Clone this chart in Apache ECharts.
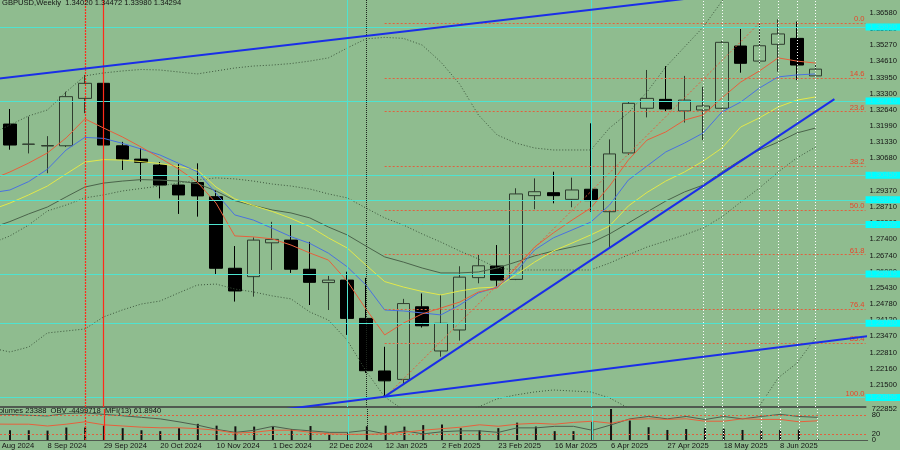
<!DOCTYPE html>
<html><head><meta charset="utf-8">
<script src="https://cdn.jsdelivr.net/npm/echarts@6/dist/echarts.min.js"></script>
<style>html,body{margin:0;padding:0;background:#8fbc8f;overflow:hidden;width:900px;height:450px;position:relative}#chart{position:absolute;left:-20px;top:0;width:920px;height:450px}</style>
</head><body><div id="chart"></div>
<script>
// ---------------- data ----------------
const weeks = ['18 Aug 2024','25 Aug 2024','1 Sep 2024','8 Sep 2024','15 Sep 2024','22 Sep 2024','29 Sep 2024','6 Oct 2024','13 Oct 2024','20 Oct 2024','27 Oct 2024','3 Nov 2024','10 Nov 2024','17 Nov 2024','24 Nov 2024','1 Dec 2024','8 Dec 2024','15 Dec 2024','22 Dec 2024','29 Dec 2024','5 Jan 2025','12 Jan 2025','19 Jan 2025','26 Jan 2025','2 Feb 2025','9 Feb 2025','16 Feb 2025','23 Feb 2025','2 Mar 2025','9 Mar 2025','16 Mar 2025','23 Mar 2025','30 Mar 2025','6 Apr 2025','13 Apr 2025','20 Apr 2025','27 Apr 2025','4 May 2025','11 May 2025','18 May 2025','25 May 2025','1 Jun 2025','8 Jun 2025','15 Jun 2025','22 Jun 2025'];

const openP  = [null,1.3207,1.3125,1.3118,1.3119,1.3311,1.3372,1.3119,1.3065,1.3041,1.2960,1.2970,1.2913,1.2623,1.2589,1.2726,1.2737,1.2619,1.2565,1.2575,1.2420,1.2207,1.2173,1.2467,1.2288,1.2373,1.2585,1.2632,1.2578,1.2917,1.2929,1.2902,1.2943,1.2852,1.3090,1.3271,1.3307,1.3260,1.3264,1.3271,1.3523,1.3462,1.3530,1.3554,1.34020];
const highP  = [null,1.3268,1.3237,1.3158,1.3338,1.3406,1.3433,1.3135,1.3110,1.3053,1.3045,1.3048,1.2940,1.2713,1.2748,1.2811,1.2798,1.2730,1.2592,1.2609,1.2584,1.2305,1.2499,1.2521,1.2515,1.2631,1.2677,1.2717,1.2947,1.2987,1.3014,1.2990,1.3210,1.3145,1.3300,1.3426,1.3442,1.3402,1.3358,1.3543,1.3592,1.3615,1.3631,1.3622,1.34472];
const lowP   = [null,1.3103,1.3088,1.3008,1.3114,1.3251,1.3070,1.3021,1.2974,1.2906,1.2843,1.2832,1.2596,1.2488,1.2508,1.2616,1.2604,1.2474,1.2454,1.2353,1.2199,1.2099,1.2155,1.2383,1.2265,1.2330,1.2562,1.2548,1.2575,1.2862,1.2886,1.2870,1.2852,1.2709,1.3082,1.3234,1.3257,1.3213,1.3142,1.3268,1.3415,1.3453,1.3419,1.3385,1.33980];
const closeP = [null,1.3122,1.3126,1.3120,1.3318,1.3372,1.3122,1.3065,1.3052,1.2960,1.2920,1.2916,1.2623,1.2531,1.2737,1.2740,1.2619,1.2566,1.2575,1.2420,1.2208,1.2167,1.2480,1.2390,1.2400,1.2587,1.2633,1.2575,1.2924,1.2933,1.2917,1.2940,1.2897,1.3086,1.3291,1.3311,1.3268,1.3304,1.3280,1.3538,1.3453,1.3524,1.3572,1.3446,1.34294];

const maRed    = [1.2982,1.3013,1.3049,1.3090,1.3151,1.3228,1.3191,1.3155,1.3114,1.3070,1.3025,1.2972,1.2887,1.2754,1.2750,1.2742,1.2717,1.2685,1.2656,1.2571,1.2458,1.2353,1.2401,1.2438,1.2462,1.2486,1.2527,1.2543,1.2624,1.2709,1.2766,1.2818,1.2867,1.2956,1.3061,1.3142,1.3175,1.3223,1.3244,1.3313,1.3377,1.3422,1.3475,1.3462,1.3454];
const maBlue   = [1.2928,1.2940,1.2974,1.3024,1.3102,1.3153,1.3149,1.3129,1.3106,1.3082,1.3048,1.3014,1.2927,1.2839,1.2818,1.2785,1.2751,1.2724,1.2684,1.2629,1.2555,1.2454,1.2450,1.2442,1.2434,1.2474,1.2523,1.2547,1.2608,1.2697,1.2746,1.2778,1.2810,1.2879,1.2980,1.3037,1.3094,1.3130,1.3171,1.3256,1.3296,1.3353,1.3398,1.3406,1.3410];
const maYellow = [1.2859,1.2887,1.2920,1.2956,1.3005,1.3053,1.3063,1.3061,1.3055,1.3047,1.3035,1.3021,1.2952,1.2904,1.2877,1.2853,1.2825,1.2792,1.2746,1.2705,1.2636,1.2569,1.2547,1.2529,1.2515,1.2531,1.2543,1.2547,1.2596,1.2648,1.2693,1.2725,1.2758,1.2794,1.2875,1.2930,1.2976,1.3013,1.3057,1.3110,1.3195,1.3232,1.3276,1.3304,1.3317];
const maGreen  = [1.2786,1.2812,1.2843,1.2871,1.2912,1.2952,1.2968,1.2976,1.2982,1.2980,1.2976,1.2966,1.2936,1.2897,1.2877,1.2859,1.2847,1.2827,1.2790,1.2758,1.2713,1.2669,1.2648,1.2624,1.2604,1.2604,1.2608,1.2624,1.2648,1.2673,1.2693,1.2709,1.2725,1.2762,1.2806,1.2851,1.2895,1.2932,1.2960,1.3013,1.3061,1.3102,1.3134,1.3171,1.3191];
const bbUpper  = [1.3167,1.3203,1.3240,1.3264,1.3337,1.3402,1.3414,1.3422,1.3428,1.3426,1.3418,1.3410,1.3422,1.3434,1.3442,1.3446,1.3452,1.3462,1.3475,1.3515,1.3552,1.3558,1.3554,1.3527,1.3458,1.3369,1.3244,1.3163,1.3130,1.3110,1.3102,1.3102,1.3102,1.3191,1.3252,1.3337,1.3438,1.3519,1.3600,1.3705,1.3774,1.3831,1.3847,1.3900,1.3888];
const bbMiddle = [1.2723,1.2754,1.2798,1.2855,1.2879,1.2908,1.2920,1.2936,1.2946,1.2956,1.2968,1.2980,1.2989,1.2985,1.2976,1.2964,1.2956,1.2944,1.2924,1.2908,1.2867,1.2827,1.2798,1.2762,1.2729,1.2693,1.2661,1.2624,1.2616,1.2616,1.2616,1.2616,1.2616,1.2644,1.2677,1.2709,1.2733,1.2758,1.2786,1.2831,1.2891,1.2948,1.3013,1.3070,1.3114];
const bbLower  = [1.2300,1.2284,1.2304,1.2361,1.2369,1.2377,1.2426,1.2454,1.2478,1.2490,1.2523,1.2555,1.2559,1.2539,1.2527,1.2511,1.2499,1.2446,1.2413,1.2332,1.2207,1.2102,1.2049,1.2008,1.2008,1.2029,1.2061,1.2094,1.2110,1.2122,1.2130,1.2126,1.2122,1.2098,1.2057,1.2029,1.2008,1.1996,1.1972,1.1956,1.2008,1.2065,1.2179,1.2239,1.2341];

const volumes = [null,227480,226900,218700,291300,290800,334200,276100,227300,205900,276400,376200,334500,318900,312400,319200,255100,325300,134200,170100,319400,334100,312200,347300,361400,276300,227100,276500,404100,312600,206200,205800,419300,722852,453200,298100,234300,255400,276200,262100,234200,227300,234400,240100,23388];
const obv = [-4150000,-4169700,-4269700,-4339700,-4069700,-3999700,-4169700,-4319700,-4499700,-4669700,-4999700,-5369700,-5839700,-6169700,-5939700,-5499700,-5839700,-5999700,-6169700,-6169700,-5939700,-6339700,-5999700,-6339700,-6099700,-5999700,-5999700,-6169700,-5669700,-5669700,-5499700,-5499700,-5939700,-5339700,-4669700,-4399700,-4669700,-4399700,-4739700,-4399700,-4669700,-4399700,-4169700,-4399700,-4499718];
const mfi = [51.5,51.0,51.0,45.2,51.0,58.8,49.0,45.2,41.4,39.4,39.4,36.5,31.6,22.0,24.9,31.6,31.6,24.9,20.0,18.3,18.3,20.0,24.9,31.6,36.5,41.4,49.0,44.3,51.0,53.9,51.0,56.8,60.6,53.9,66.4,68.4,66.4,68.4,60.6,60.6,68.4,66.4,66.4,58.8,61.894];

const priceTicks = ['1.21500','1.22160','1.22810','1.23470','1.24120','1.24780','1.25430','1.26090','1.26740','1.27400','1.28060','1.28710','1.29370','1.30020','1.30680','1.31330','1.31990','1.32640','1.33300','1.33950','1.34610','1.35270','1.35920','1.36580'];
const dateTicks = ['18 Aug 2024','8 Sep 2024','29 Sep 2024','20 Oct 2024','10 Nov 2024','1 Dec 2024','22 Dec 2024','12 Jan 2025','2 Feb 2025','23 Feb 2025','16 Mar 2025','6 Apr 2025','27 Apr 2025','18 May 2025','8 Jun 2025'];
const volumeTicks = [0, 722852];
const mfiTicks = [20, 80];
const mfiLevels = [80, 20];

const fibRatios = [0, 14.6, 23.6, 38.2, 50, 61.8, 76.4, 85.4, 100];
const fibLowWeek = '12 Jan 2025', fibLow = 1.2099;
const fibHighWeek = '1 Jun 2025', fibHigh = 1.3616;

const cyanLevels = [1.35920, 1.32710, 1.30450, 1.28995, 1.27535, 1.25915, 1.23730, 1.20855];

const trendUpper  = [[-1, 1.33793], [48, 1.38105]];
const trendLower  = [[10, 1.19983], [48, 1.23593]];
const trendRising = [[21, 1.2103], [45, 1.3308]];

const redDottedWeeks = ['22 Sep 2024'];
const redSolidWeeks  = ['29 Sep 2024'];
const cyanWeeks      = ['29 Dec 2024', '30 Mar 2025'];
const blackWeeks     = ['5 Jan 2025'];
const whiteWeeks     = ['11 May 2025','18 May 2025','1 Jun 2025','8 Jun 2025','15 Jun 2025','22 Jun 2025'];

// ---------------- layout / style ----------------
// the chart canvas is 920 px wide and shifted 20 px to the left, so the plot starts just off-screen
const X_MIN = -0.5966, X_MAX = 46.663;
const Y_MIN = 1.20611, Y_MAX = 1.37094;
const FONT = 'Liberation Sans';
const FS = 7.6;
const BG = '#8fbc8f';
const TXT = '#141414';
const AXIS = '#505a50';
const RED = '#e8603c';
const CYAN_LINE = '#4fe3d0';
const SHIFT = 20;

const last = weeks.length - 1;
const idx = w => weeks.indexOf(w);
const pts = arr => arr.map((v, i) => v == null ? null : [i, v]).filter(Boolean);
const candles = weeks.map((_, i) => openP[i] == null ? null : [i, openP[i], closeP[i], lowP[i], highP[i]]).filter(Boolean);

function vLines(){
  const out = [];
  redDottedWeeks.forEach(w => out.push({xAxis: idx(w), lineStyle:{color:'#ff2a1a', type:[2,1], width:1.2}}));
  redSolidWeeks.forEach(w => out.push({xAxis: idx(w), lineStyle:{color:'#ff2a1a', type:'solid', width:1.2}}));
  cyanWeeks.forEach(w => out.push({xAxis: idx(w), lineStyle:{color:CYAN_LINE, type:'solid', width:1}}));
  blackWeeks.forEach(w => out.push({xAxis: idx(w), lineStyle:{color:'#1e261e', type:[1,1], width:1}}));
  whiteWeeks.forEach(w => out.push({xAxis: idx(w), lineStyle:{color:'#ffffff', type:[1,2], width:1}}));
  return out;
}

const mainMarks = [];
fibRatios.forEach(r => {
  const p = fibHigh - (fibHigh - fibLow) * r / 100;
  mainMarks.push([
    {coord:[idx(fibLowWeek), p], lineStyle:{color:'#e2603e', type:[2,2], width:1},
     label:{show:true, position:'insideEndTop', distance:[1,0], formatter: r.toFixed(1), color:'#e8462a', fontSize:FS, fontFamily:FONT}},
    {coord:[X_MAX - 0.001, p]}
  ]);
});
cyanLevels.forEach(v => mainMarks.push({
  yAxis: v, lineStyle:{color:CYAN_LINE, type:'solid', width:1},
  label:{show:true, position:'end', distance:0, formatter: v.toFixed(5), color:'#3fe6e6', backgroundColor:'#00ffff',
         fontSize:FS, fontFamily:FONT, padding:[0,3,0,4], lineHeight:7}
}));
mainMarks.push({
  yAxis: closeP[last], lineStyle:{opacity:0},
  label:{show:true, position:'end', distance:0, formatter: closeP[last].toFixed(5), color:'#ffffff', backgroundColor:'#000000',
         fontSize:FS, fontFamily:FONT, padding:[0,3,0,4], lineHeight:7}
});
vLines().forEach(m => mainMarks.push(m));

const subMarks = vLines();

const lineSeries = (name, data, color, type, z) => ({
  name, type:'line', xAxisIndex:0, yAxisIndex:0, data: pts(data), showSymbol:false, symbol:'none',
  lineStyle:{color, width:1, type: type || 'solid'}, z: z || 3, silent:true, animation:false
});
const trendSeries = (data) => ({
  type:'line', xAxisIndex:0, yAxisIndex:0, data, showSymbol:false, symbol:'none',
  lineStyle:{color:'#1a2ee8', width:2}, z:6, silent:true, animation:false
});

const bbMidSeries = lineSeries('bbMiddle', bbMiddle, '#3d573d', [1,2]);
bbMidSeries.markLine = {symbol:['none','none'], silent:true, animation:false, label:{show:false}, data: mainMarks};

const option = {
  backgroundColor: BG,
  animation: false,
  textStyle: {fontFamily: FONT},
  title: [
    {text: 'GBPUSD,Weekly  ' + [openP[last], highP[last], lowP[last], closeP[last]].map(v => v.toFixed(5)).join(' '),
     left: SHIFT + 2, top: -1, padding: 0, textStyle:{fontSize:FS, fontWeight:'normal', color:TXT, fontFamily:FONT}},
    {text: 'Volumes ' + volumes[last] + '  OBV ' + obv[last] + '  MFI(13) ' + mfi[last].toFixed(4),
     left: SHIFT - 6, top: 407, padding: 0, textStyle:{fontSize:FS, fontWeight:'normal', color:TXT, fontFamily:FONT}}
  ],
  grid: [
    {left:0, right:32, top:0, height:407},
    {left:0, right:32, top:409, height:34.5}
  ],
  xAxis: [
    {type:'value', gridIndex:0, min:X_MIN, max:X_MAX, axisLine:{show:true, onZero:false, lineStyle:{color:AXIS, width:2}},
     axisTick:{show:false}, axisLabel:{show:false}, splitLine:{show:false}},
    {type:'value', gridIndex:1, min:X_MIN, max:X_MAX, axisLine:{show:true, onZero:false, lineStyle:{color:AXIS, width:1}},
     axisTick:{show:false}, splitLine:{show:false},
     axisLabel:{show:true, customValues: dateTicks.map(idx), formatter: v => weeks[Math.round(v)], align:'left', margin:2,
                fontSize:FS, color:TXT, fontFamily:FONT}}
  ],
  yAxis: [
    {type:'value', gridIndex:0, position:'right', min:Y_MIN, max:Y_MAX, scale:true,
     axisLine:{show:true, lineStyle:{color:AXIS, width:2}}, splitLine:{show:false},
     axisTick:{show:true, customValues: priceTicks.map(Number), length:3, lineStyle:{color:'#333'}},
     axisLabel:{show:true, customValues: priceTicks.map(Number), formatter: v => v.toFixed(5), margin:4,
                fontSize:FS, color:TXT, fontFamily:FONT}},
    {type:'value', gridIndex:1, position:'right', min:0, max:volumeTicks[1],
     axisLine:{show:true, lineStyle:{color:AXIS, width:2}}, splitLine:{show:false},
     axisTick:{show:false},
     axisLabel:{show:true, customValues: volumeTicks, formatter: v => String(v), margin:4, fontSize:FS, color:TXT, fontFamily:FONT}},
    {type:'value', gridIndex:1, position:'right', min:0, max:100,
     axisLine:{show:false}, splitLine:{show:false},
     axisTick:{show:false},
     axisLabel:{show:true, customValues: mfiTicks, formatter: v => String(v), margin:4, fontSize:FS, color:TXT, fontFamily:FONT}},
    {type:'value', gridIndex:1, position:'right', min:-7019718, max:-3569718, show:false}
  ],
  series: [
    {type:'candlestick', xAxisIndex:0, yAxisIndex:0, data: candles, encode:{x:0, y:[1,2,3,4]}, barWidth:13, z:2,
     itemStyle:{color:BG, color0:'#000000', borderColor:'#2f3d2f', borderColor0:'#000000', borderWidth:1}},
    lineSeries('bbUpper', bbUpper, '#3d573d', [1,2]),
    bbMidSeries,
    lineSeries('bbLower', bbLower, '#3d573d', [1,2]),
    lineSeries('maGreen', maGreen, '#4b644b'),
    lineSeries('maYellow', maYellow, '#e2e84a'),
    lineSeries('maBlue', maBlue, '#4a72e0'),
    lineSeries('maRed', maRed, RED),
    {type:'line', xAxisIndex:0, yAxisIndex:0, data:[[idx(fibLowWeek), fibLow], [idx(fibHighWeek), fibHigh]], symbol:'none',
     lineStyle:{color:'#e2603e', width:1, type:[2,2]}, z:3, silent:true},
    trendSeries(trendUpper),
    trendSeries(trendLower),
    trendSeries(trendRising),
    {type:'bar', xAxisIndex:1, yAxisIndex:1, data: pts(volumes), barWidth:2, itemStyle:{color:'#121212'}, z:2, silent:true,
     markLine:{symbol:['none','none'], silent:true, animation:false, label:{show:false}, data: subMarks}},
    {type:'line', xAxisIndex:1, yAxisIndex:3, data: pts(obv), symbol:'none', lineStyle:{color:'#4e5e4e', width:1}, z:3, silent:true},
    {type:'line', xAxisIndex:1, yAxisIndex:2, data: pts(mfi), symbol:'none', lineStyle:{color:RED, width:1}, z:3, silent:true,
     markLine:{symbol:['none','none'], silent:true, animation:false, label:{show:false},
               data: mfiLevels.map(v => ({yAxis:v, lineStyle:{color:'#e2603e', type:[2,2], width:1}}))}}
  ]
};

const chart = echarts.init(document.getElementById('chart'), null, {renderer:'canvas'});
chart.setOption(option);
</script></body></html>
